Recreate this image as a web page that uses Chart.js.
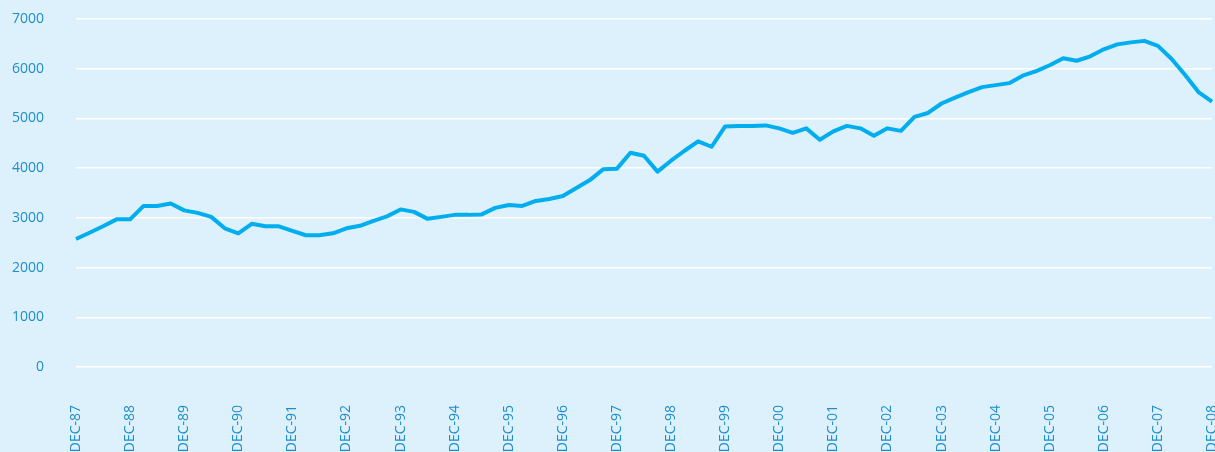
<!DOCTYPE html>
<html>
<head>
<meta charset="utf-8">
<script src="https://cdn.jsdelivr.net/npm/chart.js@4/dist/chart.umd.min.js"></script>
<style>
  html, body { margin: 0; padding: 0; background: #dcf1fc; overflow: hidden; }
  #wrap { width: 1215px; height: 452px; position: relative; }
</style>
</head>
<body>
<div id="wrap"><canvas id="lineChart"></canvas></div>
<script>
// year labels (one per December), data is quarterly
const yearLabels = ['DEC-87', 'DEC-88', 'DEC-89', 'DEC-90', 'DEC-91', 'DEC-92', 'DEC-93',
  'DEC-94', 'DEC-95', 'DEC-96', 'DEC-97', 'DEC-98', 'DEC-99', 'DEC-00', 'DEC-01',
  'DEC-02', 'DEC-03', 'DEC-04', 'DEC-05', 'DEC-06', 'DEC-07', 'DEC-08'];

const values = [
  2575, 2700, 2830, 2970, 2970, 3240, 3240, 3290, 3150, 3100,
  3020, 2790, 2690, 2880, 2830, 2830, 2740, 2650, 2650, 2690,
  2790, 2840, 2940, 3030, 3170, 3120, 2980, 3020, 3060, 3060,
  3070, 3200, 3260, 3240, 3340, 3380, 3440, 3600, 3760, 3980,
  3990, 4310, 4250, 3930, 4150, 4350, 4540, 4430, 4840, 4850,
  4850, 4860, 4800, 4710, 4800, 4570, 4740, 4850, 4800, 4650,
  4800, 4750, 5030, 5110, 5300, 5420, 5530, 5630, 5670, 5710,
  5860, 5950, 6070, 6210, 6160, 6250, 6390, 6490, 6530, 6560,
  6460, 6200, 5880, 5530, 5340
];

const yTicks = [0, 1000, 2000, 3000, 4000, 5000, 6000, 7000];

// a label at every 4th point (December), blanks for the other quarters
const labels = [];
yearLabels.forEach((y, i) => {
  labels.push(y);
  if (i < yearLabels.length - 1) labels.push('', '', '');
});

const textColor = '#1f8dcb';

new Chart(document.getElementById('lineChart'), {
  type: 'line',
  data: {
    labels: labels,
    datasets: [{
      data: values,
      borderColor: '#00aeef',
      borderWidth: 4,
      borderJoinStyle: 'round',
      pointRadius: 0,
      tension: 0,
      fill: false
    }]
  },
  options: {
    responsive: true,
    maintainAspectRatio: false,
    animation: false,
    layout: { padding: { top: 19, right: 3, left: 0, bottom: 0 } },
    plugins: { legend: { display: false }, tooltip: { enabled: false } },
    scales: {
      x: {
        grid: { display: false, drawTicks: false },
        border: { display: false },
        ticks: {
          autoSkip: false,
          maxRotation: 90,
          minRotation: 90,
          padding: 38,
          color: textColor,
          font: { family: 'Open Sans', size: 14 }
        },
        afterFit: (scale) => {
          scale.height = 85;
          scale.paddingLeft = 0;
          scale.paddingRight = 0;
        }
      },
      y: {
        min: 0,
        max: 7000,
        afterBuildTicks: (scale) => { scale.ticks = yTicks.map(v => ({ value: v })); },
        grid: { color: '#ffffff', lineWidth: 1.5, drawTicks: false },
        border: { display: false },
        ticks: {
          padding: 32,
          color: textColor,
          font: { family: 'Open Sans', size: 14 },
          callback: (v) => String(v)
        },
        afterFit: (scale) => {
          scale.width = 76;
          scale.paddingTop = 0;
          scale.paddingBottom = 0;
        }
      }
    }
  }
});
</script>
</body>
</html>
